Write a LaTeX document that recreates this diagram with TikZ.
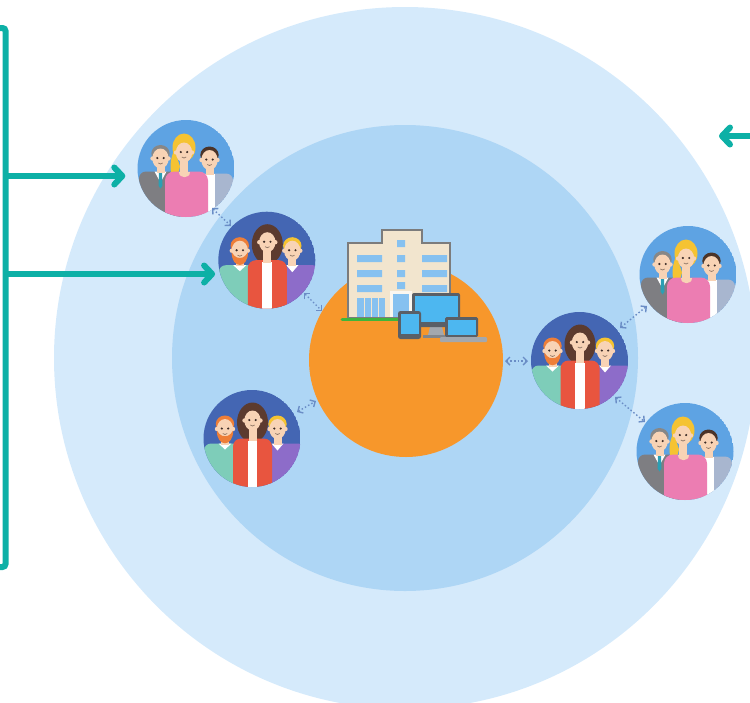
\documentclass[tikz,border=0pt]{standalone}
\usetikzlibrary{arrows.meta}
\definecolor{outerring}{HTML}{D5EAFB}
\definecolor{innerring}{HTML}{AED6F5}
\definecolor{corefill}{HTML}{F7972B}
\definecolor{tealline}{HTML}{0DB0A6}
\definecolor{bizbg}{HTML}{5EA3E3}
\definecolor{casbg}{HTML}{4466B3}
\definecolor{skin}{HTML}{F8D3B5}
\definecolor{eyec}{HTML}{3B2B26}
\definecolor{suitgray}{HTML}{7E7E82}
\definecolor{hairgray}{HTML}{878787}
\definecolor{tiec}{HTML}{2B9FB4}
\definecolor{blond}{HTML}{F5C332}
\definecolor{pinktop}{HTML}{EC7DB2}
\definecolor{darkhair}{HTML}{4B3429}
\definecolor{jacketgray}{HTML}{A8B6CF}
\definecolor{gingerhair}{HTML}{EE7E38}
\definecolor{mint}{HTML}{7ECDB9}
\definecolor{brownhair}{HTML}{5C3B2F}
\definecolor{redjacket}{HTML}{E8553F}
\definecolor{purplesw}{HTML}{8D6CC9}
\definecolor{dotarrow}{HTML}{6A8DC6}
\definecolor{bldfill}{HTML}{F2E5CE}
\definecolor{bldline}{HTML}{7C7C7C}
\definecolor{winblue}{HTML}{86C1F0}
\definecolor{grass}{HTML}{3FB43C}
\definecolor{devframe}{HTML}{5A5F66}
\definecolor{devscreen}{HTML}{4DB7F0}
\definecolor{devgray}{HTML}{A3A8AE}

\tikzset{
  grp/.style={circle, minimum size=97pt, inner sep=0pt},
  link/.style={dotarrow, line width=1.4pt, dash pattern=on 1.5pt off 2.2pt,
    {Straight Barb[length=4pt,width=8pt]}-{Straight Barb[length=4pt,width=8pt]}},
  pointer/.style={tealline, line width=6pt,
    -{Straight Barb[length=8pt,width=17pt,line join=round,line cap=round]}},
  % a smiling face with ears
  face/.pic={
    \fill[skin] (-8,0) circle[radius=2.2pt] (8,0) circle[radius=2.2pt];
    \fill[skin] (0,0) ellipse[x radius=8.2pt, y radius=10pt];
    \fill[eyec] (-3.2,-0.5) circle[radius=1.2pt] (3.2,-0.5) circle[radius=1.2pt];
    \draw[eyec!55!skin, line width=0.7pt] (-2.2,4.5) .. controls (-1,5.8) and (1,5.8) .. (2.2,4.5);
  },
  % three office people on a light blue disc
  biz/.pic={
    \begin{scope}
      \clip (0,0) circle[radius=48.5pt];
      \fill[bizbg] (0,0) circle[radius=48.5pt];
      % man on the right
      \fill[jacketgray, rounded corners=7pt] (8,5) rectangle (47,70);
      \fill[white] (18,5) rectangle (29,70);
      \fill[skin] (19.5,-2) rectangle (27.5,6);
      \fill[darkhair] (23.5,-13.5) ellipse[x radius=9.2pt, y radius=8.5pt];
      \pic at (23.5,-8.5) {face};
      % man on the left
      \fill[suitgray, rounded corners=7pt] (-47,3) rectangle (-6,70);
      \fill[white] (-31.5,3) -- (-19.5,3) -- (-25.5,14) -- cycle;
      \fill[tiec] (-27,4) -- (-24,4) -- (-23.5,17) -- (-25.5,20) -- (-27.5,17) -- cycle;
      \fill[skin] (-29.5,-3) rectangle (-21.5,4);
      \fill[hairgray] (-25.5,-15) ellipse[x radius=9.2pt, y radius=8.5pt];
      \pic at (-25.5,-10) {face};
      % woman in the middle
      \fill[blond] (-2,-21) ellipse[x radius=11.5pt, y radius=14pt];
      \fill[blond] (-11.5,-19) .. controls (-18,-5) and (-16,8) .. (-10,13) -- (-6,-2) -- cycle;
      \fill[pinktop, rounded corners=9pt] (-21,3) rectangle (22,70);
      \fill[skin] (-6,-9) rectangle (2,4);
      \fill[skin] (-7.5,3) .. controls (-7.5,10) and (3.5,10) .. (3.5,3) -- cycle;
      \pic at (-2,-16) {face};
    \end{scope}
  },
  % three casual people on a dark blue disc
  cas/.pic={
    \begin{scope}
      \clip (0,0) circle[radius=48.5pt];
      \fill[casbg] (0,0) circle[radius=48.5pt];
      % blond man on the right
      \fill[purplesw, rounded corners=7pt] (17,5) rectangle (53,70);
      \fill[white] (19.5,5) -- (31.5,5) -- (25.5,12) -- cycle;
      \fill[skin] (21.5,-2) rectangle (29.5,6);
      \fill[blond] (25.5,-14.5) ellipse[x radius=9.2pt, y radius=8.5pt];
      \pic at (25.5,-9.5) {face};
      % bearded man on the left
      \fill[mint, rounded corners=7pt] (-48,5) rectangle (-12,70);
      \fill[white] (-33.5,5) -- (-20.5,5) -- (-27,11) -- cycle;
      \fill[skin] (-31,-2) rectangle (-23,6);
      \fill[gingerhair] (-27,-14.5) ellipse[x radius=9.2pt, y radius=8.5pt];
      \pic at (-27,-9.5) {face};
      \fill[gingerhair] (-35.2,-8) .. controls (-35.2,9) and (-18.8,9) .. (-18.8,-8)
        -- (-21.5,-4.5) .. controls (-24,-1.5) and (-30,-1.5) .. (-32.5,-4.5) -- cycle;
      % woman in the middle
      \fill[brownhair] (0.5,-16) ellipse[x radius=15.5pt, y radius=20pt];
      \fill[redjacket, rounded corners=8pt] (-19,0) rectangle (20,70);
      \fill[white] (-4.5,2) rectangle (5,70);
      \fill[skin] (-3.5,-10) rectangle (4.5,2.5);
      \pic at (0.5,-18) {face};
    \end{scope}
  }
}

\begin{document}
\begin{tikzpicture}[x=1pt, y=-1pt]
\useasboundingbox (0,0) rectangle (750,702);
\clip (0,0) rectangle (750,702);

% rings
\fill[outerring] (405,358) circle[radius=351pt];
\fill[innerring] (405,358) circle[radius=233pt];
\node[circle, fill=corefill, minimum size=194pt, inner sep=0pt] (core) at (406,360) {};

% office building
\fill[bldfill, draw=bldline, line width=1.4pt]
  (348,318) -- (348,243) -- (382,243) -- (382,230) -- (422,230)
  -- (422,243) -- (450,243) -- (450,318) -- cycle;
\fill[winblue] (357,255) rectangle (382,262) (357,270) rectangle (382,277) (357,285) rectangle (382,292);
\fill[winblue] (422,255) rectangle (447,262) (422,270) rectangle (447,277) (422,285) rectangle (447,292);
\fill[winblue] (397,240) rectangle (405,247) (397,255) rectangle (405,262)
  (397,270) rectangle (405,277) (397,282) rectangle (405,289);
\fill[winblue] (357,298) rectangle (385,317);
\draw[bldfill, line width=0.8pt] (364,298) -- (364,317) (371,298) -- (371,317) (378,298) -- (378,317);
\fill[white!70!bldfill] (390,291) rectangle (412,317);
\fill[winblue] (393,294) rectangle (409,317);
\draw[grass, line width=3pt, line cap=round] (342,319.5) -- (400,319.5);

% devices
\fill[devgray] (430,327) -- (442,327) -- (444,335) -- (428,335) -- cycle;
\fill[devgray!80!black] (423,335) rectangle (449,338);
\fill[devframe, rounded corners=2pt] (412,293) rectangle (460,327);
\fill[devscreen] (414.5,295.5) rectangle (457.5,322);
\fill[devframe, rounded corners=2.5pt] (398,311) rectangle (421,339);
\fill[devscreen] (400.5,314) rectangle (418.5,334);
\fill[devframe, rounded corners=1.5pt] (445,317) rectangle (478,337);
\fill[devscreen] (447.5,319.5) rectangle (475.5,335);
\fill[devgray, rounded corners=1pt] (440,337) rectangle (487,342);

% groups of people
\node[grp] (g1) at (186,168.5) {};
\node[grp] (g2) at (266.8,260.2) {};
\node[grp] (g3) at (252,438.5) {};
\node[grp] (g4) at (579.5,360.5) {};
\node[grp] (g5) at (688,274.5) {};
\node[grp] (g6) at (685,451.5) {};
\pic at (g1) {biz};
\pic at (g2) {cas};
\pic at (g3) {cas};
\pic at (g4) {cas};
\pic at (g5) {biz};
\pic at (g6) {biz};

% dotted links
\coordinate (l1a) at (212,208); \coordinate (l1b) at (231,226);
\coordinate (l2a) at (304,293); \coordinate (l2b) at (322,311);
\coordinate (l3a) at (297,412); \coordinate (l3b) at (316,401);
\coordinate (l4a) at (505,361); \coordinate (l4b) at (528,361);
\coordinate (l5a) at (620,328); \coordinate (l5b) at (647,306);
\coordinate (l6a) at (615,397); \coordinate (l6b) at (645,422);
\draw[link] (l1a) -- (l1b);
\draw[link] (l2a) -- (l2b);
\draw[link] (l3a) -- (l3b);
\draw[link] (l4a) -- (l4b);
\draw[link] (l5a) -- (l5b);
\draw[link] (l6a) -- (l6b);

% bracket and pointers
\draw[tealline, line width=6pt, rounded corners=3pt] (-6,28) -- (5.5,28) -- (5.5,567) -- (-6,567);
\coordinate (b1) at (5.5,176);
\coordinate (b2) at (5.5,274);
\draw[pointer, shorten >=12pt] (b1) -- (g1.west |- b1);
\draw[pointer, shorten >=3pt] (b2) -- (g2.west |- b2);
\coordinate (r1) at (760,136);
\coordinate (r2) at (719,136);
\draw[pointer] (r1) -- (r2);
\end{tikzpicture}
\end{document}
